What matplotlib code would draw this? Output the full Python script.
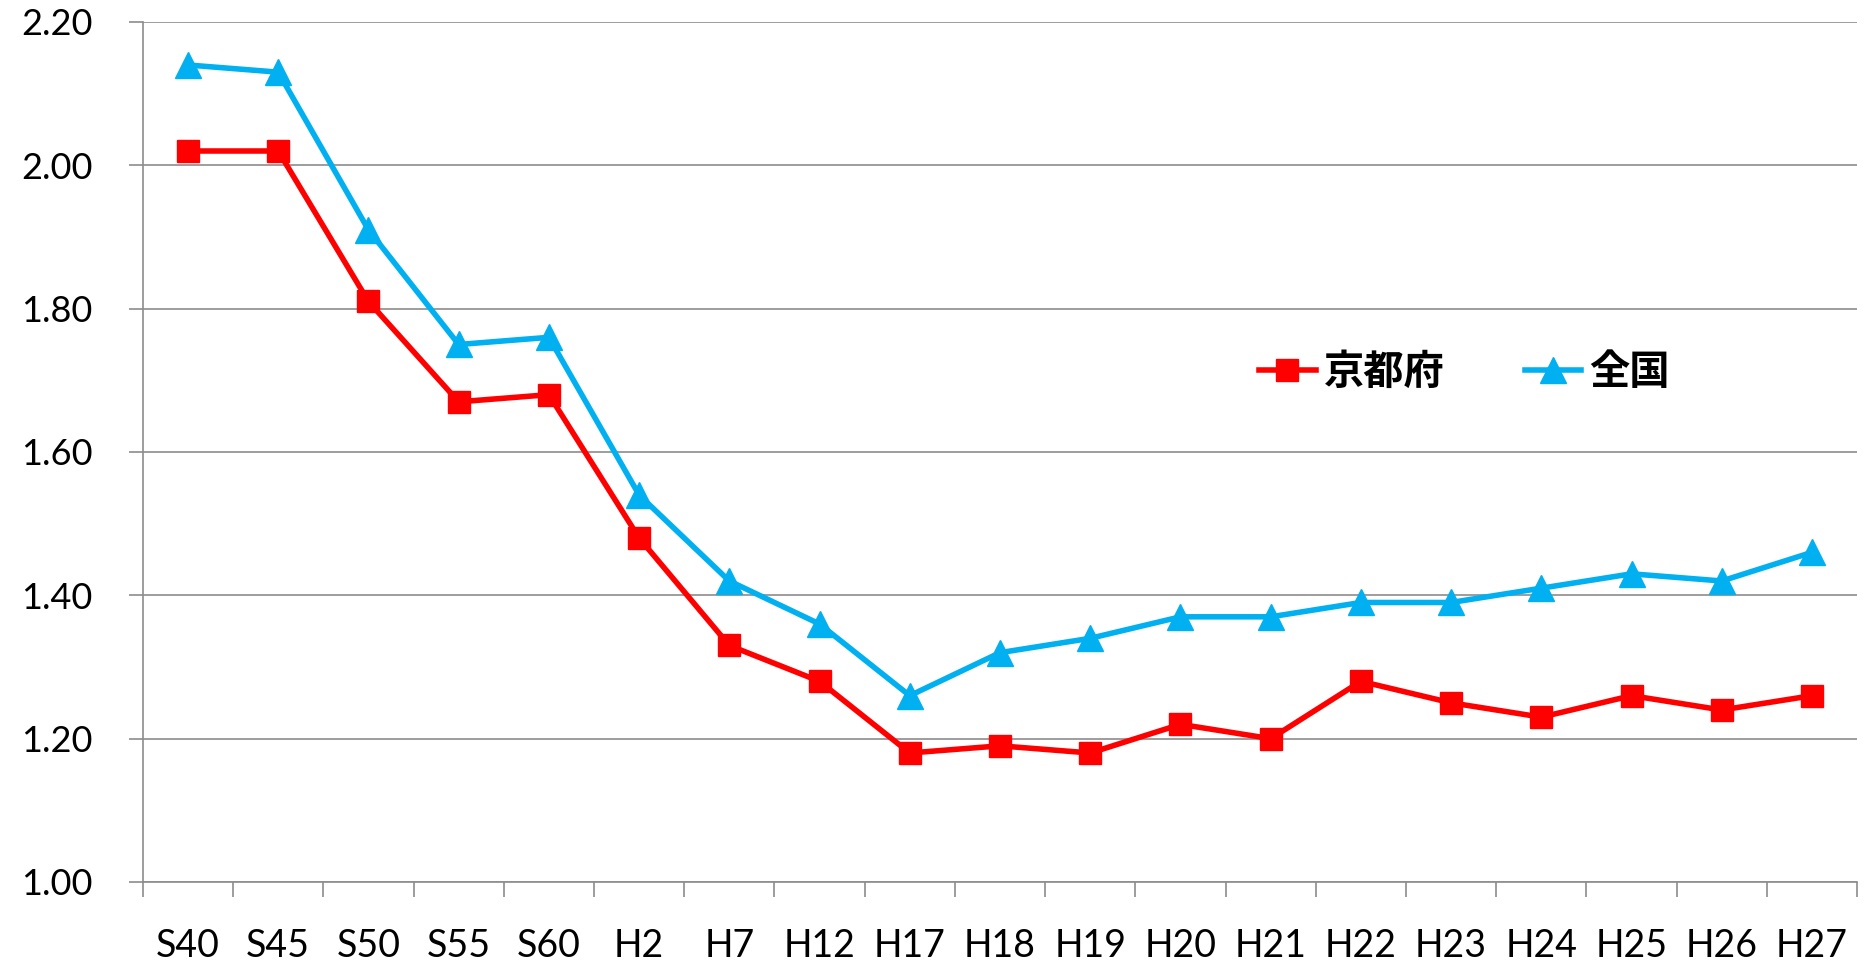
import numpy as np
import matplotlib.pyplot as plt
from matplotlib.ticker import FixedLocator, NullFormatter

years = ["S40", "S45", "S50", "S55", "S60", "H2", "H7", "H12", "H17", "H18",
         "H19", "H20", "H21", "H22", "H23", "H24", "H25", "H26", "H27"]
kyoto = [2.02, 2.02, 1.81, 1.67, 1.68, 1.48, 1.33, 1.28, 1.18, 1.19,
         1.18, 1.22, 1.20, 1.28, 1.25, 1.23, 1.26, 1.24, 1.26]
national = [2.14, 2.13, 1.91, 1.75, 1.76, 1.54, 1.42, 1.36, 1.26, 1.32,
            1.34, 1.37, 1.37, 1.39, 1.39, 1.41, 1.43, 1.42, 1.46]
y_ticks = [1.00, 1.20, 1.40, 1.60, 1.80, 2.00, 2.20]

plt.rcParams['font.family'] = ['Lato', 'DejaVu Sans']
fig = plt.figure(figsize=(18.73, 9.69), dpi=100)
ax = fig.add_axes([0.0763, 0.0898, 0.9152, 0.8875])

x = np.arange(len(years))
ax.plot(x, kyoto, color="#ff0000", lw=4, marker="s", ms=16,
        label="京都府", zorder=3)
ax.plot(x, national, color="#00b0f0", lw=4, marker="^", ms=19,
        label="全国", zorder=3)

ax.set_xlim(-0.5, len(years) - 0.5)
ax.set_ylim(1.0, 2.2)
ax.set_yticks(y_ticks)
ax.set_yticklabels([f"{v:.2f}" for v in y_ticks])
ax.yaxis.grid(True, color="#8c8c8c", lw=1.2)
ax.set_axisbelow(True)

# category axis: ticks between categories, labels at centres
ax.xaxis.set_major_locator(FixedLocator(np.arange(-0.5, len(years), 1.0)))
ax.xaxis.set_major_formatter(NullFormatter())
ax.xaxis.set_minor_locator(FixedLocator(x))
ax.set_xticklabels(years, minor=True)
ax.tick_params(axis="x", which="major", length=11, width=1.2, color="#8c8c8c")
ax.tick_params(axis="x", which="minor", length=0, pad=33, labelsize=27)
ax.tick_params(axis="y", length=10, width=1.2, color="#8c8c8c", pad=26,
               labelsize=26)

for side in ["top", "right"]:
    ax.spines[side].set_visible(False)
for side in ["left", "bottom"]:
    ax.spines[side].set_color("#8c8c8c")
    ax.spines[side].set_linewidth(1.2)

leg = ax.legend(loc="center", bbox_to_anchor=(0.771, 0.592), ncol=2,
                frameon=False, handlelength=1.4, columnspacing=2.0,
                handletextpad=0.2,
                prop={"family": ["Noto Sans CJK JP"], "weight": "bold",
                      "size": 29})

fig.savefig("out.png", dpi=100)
